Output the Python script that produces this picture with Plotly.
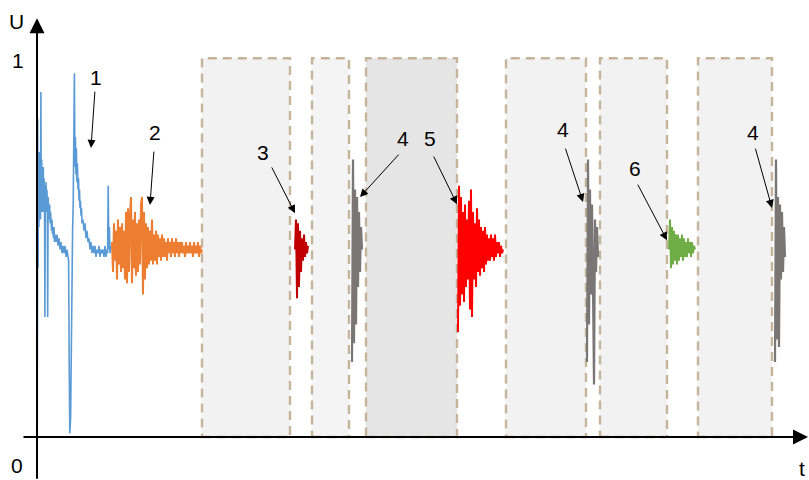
import plotly.graph_objects as go

# ---- signal data (t in time units, U normalised) ----
blue_t = [0.3, 0.7, 1.1, 1.5, 1.9, 2.3, 2.7, 3.1, 3.5, 3.9, 4.3, 4.7, 5.1, 5.5, 5.9, 6.3,
          6.7, 7.1, 7.5, 7.9, 8.3, 8.7, 9.1, 9.5, 9.9, 10.3, 10.7, 11.1, 11.5, 11.9, 12.3,
          12.7, 13.1, 13.5, 14, 14.5, 15, 15.5, 16, 16.5, 17, 17.5, 18, 19, 20, 21, 22,
          23, 24, 25, 26, 27, 28, 29, 30, 31, 31.6, 32.2, 32.8, 33.6, 34.4, 35.0, 35.6,
          36.2, 36.8, 37.4, 37.9, 38.4, 38.9, 39.4, 39.9, 40.4, 41, 41.5, 42, 42.5, 43,
          43.5, 44, 44.5, 45, 46, 47, 48, 49, 50, 51, 52, 53, 54, 55, 56, 57, 58, 59, 60,
          61, 62, 63, 64, 65, 66, 67, 68, 69, 70, 70.6, 71.2, 71.8, 72.4, 73, 74, 75]
blue_u = [0.02, 0.85, 0.45, 0.72, 0.56, 0.76, 0.60, 0.70, 0.58, 0.92, 0.60, 0.74, 0.64,
          0.71, 0.60, 0.72, 0.62, 0.69, 0.63, 0.32, 0.67, 0.61, 0.68, 0.60, 0.66, 0.62,
          0.32, 0.64, 0.59, 0.63, 0.58, 0.62, 0.57, 0.60, 0.58, 0.55, 0.58, 0.54, 0.56,
          0.53, 0.56, 0.52, 0.54, 0.52, 0.54, 0.51, 0.53, 0.50, 0.52, 0.49, 0.51, 0.49,
          0.51, 0.48, 0.50, 0.48, 0.47, 0.20, 0.01, 0.05, 0.30, 0.45, 0.55, 0.62, 0.80,
          0.97, 0.72, 0.80, 0.70, 0.77, 0.68, 0.73, 0.66, 0.69, 0.63, 0.66, 0.61, 0.63,
          0.59, 0.61, 0.57, 0.58, 0.55, 0.57, 0.53, 0.55, 0.52, 0.53, 0.50, 0.52, 0.49,
          0.51, 0.49, 0.51, 0.48, 0.50, 0.49, 0.51, 0.48, 0.50, 0.49, 0.50, 0.48, 0.51,
          0.48, 0.50, 0.49, 0.67, 0.50, 0.56, 0.49, 0.51, 0.50]

orange_t0 = 75
orange_u = [0.52, 0.44, 0.57, 0.47, 0.55, 0.42, 0.58, 0.46, 0.56, 0.44, 0.57, 0.45, 0.55,
            0.42, 0.60, 0.41, 0.61, 0.44, 0.59, 0.64, 0.41, 0.58, 0.45, 0.60, 0.43, 0.57,
            0.44, 0.58, 0.46, 0.62, 0.64, 0.38, 0.60, 0.42, 0.57, 0.45, 0.56, 0.46, 0.55,
            0.47, 0.58, 0.46, 0.54, 0.47, 0.55, 0.46, 0.54, 0.48, 0.53, 0.47, 0.54, 0.48,
            0.53, 0.48, 0.52, 0.47, 0.53, 0.49, 0.52, 0.48, 0.53, 0.49, 0.52, 0.48, 0.53,
            0.49, 0.52, 0.48, 0.52, 0.49, 0.52, 0.49, 0.51, 0.48, 0.52, 0.49, 0.51, 0.49,
            0.52, 0.49, 0.51, 0.48, 0.52, 0.49, 0.51, 0.49, 0.52, 0.48, 0.51, 0.49, 0.50]

darkred_t0 = 258
darkred_u = [0.50, 0.58, 0.37, 0.57, 0.40, 0.55, 0.44, 0.53, 0.47, 0.54, 0.48, 0.52,
             0.49, 0.51]

gray_a_t0 = 315
gray_a_u = [0.20, 0.74, 0.25, 0.66, 0.30, 0.64, 0.40, 0.60, 0.44, 0.56, 0.50]

red_t0 = 421
red_u = [0.28, 0.67, 0.35, 0.64, 0.38, 0.60, 0.36, 0.62, 0.40, 0.58, 0.42,
         0.63, 0.34, 0.66, 0.32, 0.60, 0.42, 0.57, 0.40, 0.61, 0.44, 0.58,
         0.43, 0.56, 0.45, 0.55, 0.44, 0.56, 0.46, 0.54, 0.47, 0.53,
         0.47, 0.54, 0.48, 0.53, 0.47, 0.54, 0.48, 0.52, 0.49, 0.52, 0.48, 0.51, 0.49, 0.50]

gray_b_t0 = 550
gray_b_u = [0.20, 0.74, 0.30, 0.66, 0.38, 0.62, 0.40, 0.14, 0.58, 0.44, 0.56, 0.48]

green_t0 = 632
green_u = [0.50, 0.58, 0.45, 0.56, 0.46, 0.55, 0.47, 0.54, 0.46, 0.54, 0.47, 0.53, 0.48,
           0.54, 0.47, 0.53, 0.48, 0.52, 0.48, 0.53, 0.49, 0.52, 0.48, 0.52, 0.49, 0.51, 0.50]

gray_c_t0 = 738
gray_c_u = [0.20, 0.74, 0.26, 0.64, 0.24, 0.62, 0.42, 0.60, 0.44, 0.56, 0.48]

# shaded intervals: start, end, fill
box_start = [165, 275, 329, 469, 563, 661]
box_end = [253, 312, 420, 549, 630, 735]
box_fill = ["#f2f2f2", "#f4f4f4", "#e5e5e5", "#f2f2f2", "#f2f2f2", "#f2f2f2"]
box_top = 1.01

# callout labels: text, label position, arrow tail, arrow tip
callout_text = ["1", "2", "3", "4", "5", "4", "6", "4"]
callout_pos = [(59, 0.96), (118, 0.813), (226, 0.76), (366, 0.797), (393, 0.797),
               (526, 0.819), (598, 0.717), (716, 0.811)]
callout_tail = [(58, 0.925), (117, 0.765), (234, 0.723), (363, 0.757), (396, 0.752),
                (528, 0.773), (600, 0.677), (718, 0.773)]
callout_tip = [(54, 0.771), (113, 0.619), (258, 0.597), (323, 0.64), (420, 0.621),
               (546, 0.627), (630, 0.525), (735, 0.611)]

FONT = "Liberation Sans, Arial, sans-serif"


def seg(t0, vals):
    return [t0 + i for i in range(len(vals))], vals


fig = go.Figure()

series = [
    (blue_t, blue_u, "#5b9bd5", 1.6),
    (*seg(orange_t0, orange_u), "#ed7d31", 2.0),
    (*seg(darkred_t0, darkred_u), "#c00000", 2.0),
    (*seg(gray_a_t0, gray_a_u), "#7a7676", 2.2),
    (*seg(red_t0, red_u), "#ff0000", 2.0),
    (*seg(gray_b_t0, gray_b_u), "#7a7676", 2.2),
    (*seg(green_t0, green_u), "#70ad47", 2.0),
    (*seg(gray_c_t0, gray_c_u), "#7a7676", 2.2),
]
for xs, ys, col, w in series:
    fig.add_trace(go.Scatter(x=xs, y=ys, mode="lines", line=dict(color=col, width=w),
                             hoverinfo="skip", showlegend=False))

shapes = []
for x0, x1, fc in zip(box_start, box_end, box_fill):
    shapes.append(dict(type="rect", xref="x", yref="y", x0=x0, x1=x1, y0=0, y1=box_top,
                       fillcolor=fc, line=dict(color="#c6b49a", width=2.4, dash="9px,6px"),
                       layer="below"))

annotations = []
# axes with arrowheads
annotations.append(dict(x=771, y=0, ax=-15, ay=0, xref="x", yref="y", axref="x", ayref="y",
                        text="", showarrow=True, arrowhead=2, arrowsize=1.5, arrowwidth=2,
                        arrowcolor="black"))
annotations.append(dict(x=0, y=1.117, ax=0, ay=-0.115, xref="x", yref="y", axref="x",
                        ayref="y", text="", showarrow=True, arrowhead=2, arrowsize=1.5,
                        arrowwidth=2, arrowcolor="black"))
for txt, (tx, ty) in [("U", (-21, 1.107)), ("1", (-19, 1.005)), ("0", (-20, -0.077)),
                      ("t", (765, -0.085))]:
    annotations.append(dict(x=tx, y=ty, xref="x", yref="y", text=txt, showarrow=False,
                            font=dict(family=FONT, size=21, color="black")))

for txt, pos, tail, tip in zip(callout_text, callout_pos, callout_tail, callout_tip):
    annotations.append(dict(x=pos[0], y=pos[1], xref="x", yref="y", text=txt,
                            showarrow=False, font=dict(family=FONT, size=21, color="black")))
    annotations.append(dict(x=tip[0], y=tip[1], ax=tail[0], ay=tail[1], xref="x", yref="y",
                            axref="x", ayref="y", text="", showarrow=True, arrowhead=2,
                            arrowsize=1.6, arrowwidth=1, arrowcolor="black"))

fig.update_layout(
    width=809, height=480,
    margin=dict(l=0, r=0, t=0, b=0),
    paper_bgcolor="white", plot_bgcolor="white",
    xaxis=dict(range=[-37, 772], visible=False, fixedrange=True),
    yaxis=dict(range=[-43 / 375, 437 / 375], visible=False, fixedrange=True),
    shapes=shapes, annotations=annotations,
)

fig.write_html("out.html")
